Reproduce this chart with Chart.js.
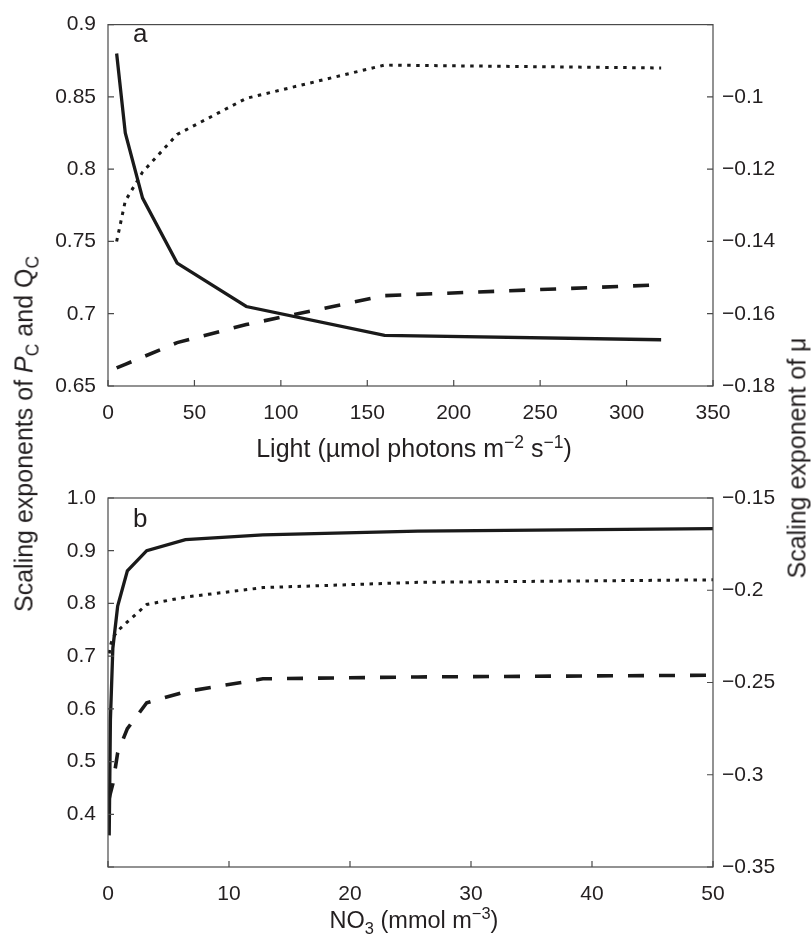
<!DOCTYPE html>
<html>
<head>
<meta charset="utf-8">
<script src="https://cdn.jsdelivr.net/npm/chart.js@4.4.1/dist/chart.umd.min.js"></script>
<style>
  html, body { margin:0; padding:0; background:#fff; }
  #wrap { position:relative; width:811px; height:934px; background:#fff; font-family:"Liberation Sans", Arial, Helvetica, sans-serif; color:#231f20; }
  canvas { position:absolute; left:0; }
  .t { position:absolute; white-space:nowrap; line-height:1; }
  .t sup, .t sub { font-size:70%; line-height:0; }
  .rot { transform:translate(-50%,-50%) rotate(-90deg); }
</style>
</head>
<body>
<div id="wrap">
  <canvas id="ca" width="811" height="445" style="top:0"></canvas>
  <canvas id="cb" width="811" height="464" style="top:470px"></canvas>
  <div class="t" style="left:133px; top:20px; font-size:26px;">a</div>
  <div class="t" style="left:133px; top:505px; font-size:26px;">b</div>
  <div class="t" style="left:114px; width:600px; text-align:center; top:436px; font-size:25px;">Light (µmol photons m<sup>−2</sup> s<sup>−1</sup>)</div>
  <div class="t" style="left:114px; width:600px; text-align:center; top:909px; font-size:23.5px;">NO<sub>3</sub> (mmol m<sup>−3</sup>)</div>
  <div class="t rot" style="left:24px; top:434px; font-size:25px;">Scaling exponents of <i>P</i><sub>C</sub> and Q<sub>C</sub></div>
  <div class="t rot" style="left:797px; top:458px; font-size:25px;">Scaling exponent of μ</div>
</div>
<script>
// ---------- Panel a: light ----------
const lightX      = [5, 10, 20, 40, 80, 160, 320];
const aSolid      = [0.88, 0.825, 0.78, 0.735, 0.705, 0.685, 0.682];
const aDotted     = [0.75, 0.778, 0.798, 0.824, 0.849, 0.872, 0.870];
const aDashedMu   = [-0.175, -0.174, -0.172, -0.168, -0.163, -0.155, -0.152];

// ---------- Panel b: NO3 ----------
const no3X        = [0.1, 0.2, 0.4, 0.8, 1.6, 3.2, 6.4, 12.8, 25.6, 51.2];
const bSolid      = [0.36, 0.58, 0.715, 0.795, 0.862, 0.900, 0.921, 0.930, 0.937, 0.942];
const bDotted     = [0.705, 0.72, 0.735, 0.748, 0.765, 0.798, 0.812, 0.830, 0.840, 0.845];
const bDashedMu   = [-0.313, -0.310, -0.305, -0.288, -0.275, -0.261, -0.255, -0.248, -0.247, -0.246];

// ---------- Axis ranges / ticks ----------
const aXRange = [0, 350], aXStep = 50;
const aYRange = [0.65, 0.9], aYStep = 0.05;
const aY1Range = [-0.18, -0.08], aY1Step = 0.02;
const bXRange = [0, 50], bXStep = 10;
const bYRange = [0.3, 1.0], bYStep = 0.1;
const bY1Range = [-0.35, -0.15], bY1Step = 0.05;

const INK = '#1a1a1a';
const AXIS = '#4a4a4a';
const TXT = '#231f20';
const FONT = { family: '"Liberation Sans", Arial, Helvetica, sans-serif', size: 21 };

function pts(xs, ys) { return xs.map((x, i) => ({ x: x, y: ys[i] })); }
function fmtNum(v) {
  const r = Math.round(v * 1000) / 1000;
  const s = String(Math.abs(r));
  return (r < 0 ? '−' : '') + s;
}

const frame = {
  id: 'frame',
  afterDraw(chart) {
    const { ctx, chartArea: { left, right, top, bottom }, scales } = chart;
    ctx.save();
    ctx.strokeStyle = AXIS;
    ctx.lineWidth = 1.2;
    ctx.strokeRect(left, top, right - left, bottom - top);
    const L = 6;
    ctx.beginPath();
    scales.x.ticks.forEach(t => {
      const p = scales.x.getPixelForValue(t.value);
      ctx.moveTo(p, bottom); ctx.lineTo(p, bottom - L);
    });
    scales.y.ticks.forEach(t => {
      const p = scales.y.getPixelForValue(t.value);
      ctx.moveTo(left, p); ctx.lineTo(left + L, p);
    });
    scales.y1.ticks.forEach(t => {
      const p = scales.y1.getPixelForValue(t.value);
      ctx.moveTo(right, p); ctx.lineTo(right - L, p);
    });
    ctx.stroke();
    ctx.restore();
  }
};

function lineDs(data, axis, style) {
  const ds = {
    data: data, yAxisID: axis, showLine: true, borderColor: INK, backgroundColor: INK,
    pointRadius: 0, pointHoverRadius: 0, tension: 0, fill: false, borderCapStyle: 'butt'
  };
  if (style === 'solid') { ds.borderWidth = 3.3; }
  if (style === 'dot') { ds.borderWidth = 3; ds.borderDash = [3.5, 5.5]; }
  if (style === 'dash') { ds.borderWidth = 3.6; ds.borderDash = [16, 15]; }
  return ds;
}

function makeChart(id, cfg) {
  return new Chart(document.getElementById(id), {
    type: 'scatter',
    data: { datasets: cfg.datasets },
    options: {
      responsive: false, animation: false, events: [],
      layout: { padding: { top: cfg.padTop, left: 0, right: 0, bottom: 0 } },
      plugins: { legend: { display: false }, tooltip: { enabled: false } },
      scales: {
        x: {
          type: 'linear', position: 'bottom', min: cfg.xr[0], max: cfg.xr[1],
          grid: { display: false, drawTicks: false }, border: { display: false },
          ticks: { stepSize: cfg.xs, autoSkip: false, maxRotation: 0, padding: 15, color: TXT, font: FONT,
                   callback: v => fmtNum(v) },
          afterFit: s => { s.height = cfg.xh; }
        },
        y: {
          type: 'linear', position: 'left', min: cfg.yr[0], max: cfg.yr[1],
          grid: { display: false, drawTicks: false }, border: { display: false },
          ticks: { stepSize: cfg.ys, autoSkip: false, padding: 12, color: TXT, font: FONT, callback: cfg.yfmt },
          afterFit: s => { s.width = 108; }
        },
        y1: {
          type: 'linear', position: 'right', min: cfg.y1r[0], max: cfg.y1r[1],
          grid: { display: false, drawTicks: false }, border: { display: false },
          ticks: { stepSize: cfg.y1s, autoSkip: false, padding: 9, color: TXT, font: FONT, callback: cfg.y1fmt },
          afterFit: s => { s.width = 98; }
        }
      }
    },
    plugins: [frame]
  });
}

makeChart('ca', {
  padTop: 16, xh: 59,
  xr: aXRange, xs: aXStep, yr: aYRange, ys: aYStep, y1r: aY1Range, y1s: aY1Step,
  yfmt: v => fmtNum(v),
  y1fmt: v => (v > -0.09 ? '' : fmtNum(v)),
  datasets: [
    lineDs(pts(lightX, aSolid), 'y', 'solid'),
    lineDs(pts(lightX, aDotted), 'y', 'dot'),
    lineDs(pts(lightX, aDashedMu), 'y1', 'dash')
  ]
});

makeChart('cb', {
  padTop: 28, xh: 67,
  xr: bXRange, xs: bXStep, yr: bYRange, ys: bYStep, y1r: bY1Range, y1s: bY1Step,
  yfmt: v => (v < 0.35 ? '' : (Math.round(v * 10) / 10).toFixed(1)),
  y1fmt: v => fmtNum(v),
  datasets: [
    lineDs(pts(no3X, bSolid), 'y', 'solid'),
    lineDs(pts(no3X, bDotted), 'y', 'dot'),
    lineDs(pts(no3X, bDashedMu), 'y1', 'dash')
  ]
});
</script>
</body>
</html>
